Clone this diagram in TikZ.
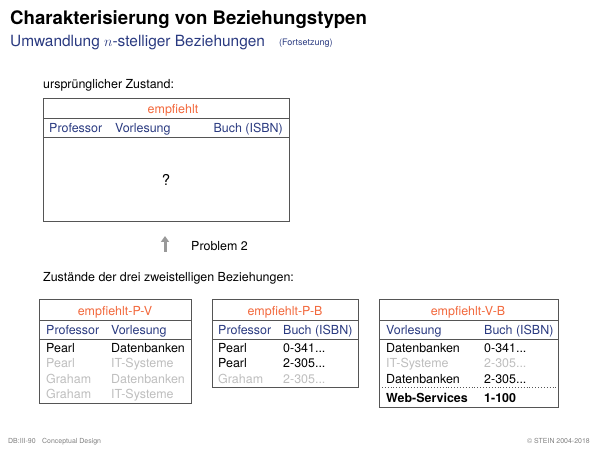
\documentclass[tikz,border=0pt]{standalone}
\usepackage{fontspec}
\setmainfont{TeX Gyre Heros}
\usepackage{xcolor}
\usetikzlibrary{arrows.meta}
\definecolor{slideblue}{RGB}{42,58,128}
\definecolor{slideorange}{RGB}{242,104,60}
\definecolor{lightrow}{RGB}{190,190,190}
\definecolor{framegray}{RGB}{85,85,85}

\begin{document}
\begin{tikzpicture}[x=1bp, y=-1bp,
    every node/.style={inner sep=0pt, text height=9bp, text depth=0bp, font=\fontsize{12.5}{14}\selectfont},
    frame/.style={draw=framegray, line width=0.9bp},
    relname/.style={text=slideorange},
    colname/.style={text=slideblue, anchor=west},
    row/.style={anchor=west},
    faded/.style={anchor=west, text=lightrow},
    footer/.style={text=gray, text height=5bp, font=\fontsize{7}{8}\selectfont}]
    \useasboundingbox (0,0) rectangle (600,450);

    % Title
    \node[anchor=west, text height=13.5bp, font=\fontsize{18.7}{20}\selectfont\bfseries] (title) at (10,18) {Charakterisierung von Beziehungstypen};
    \node[anchor=west, text height=11.2bp, text=slideblue, font=\fontsize{15.5}{17}\selectfont] (subtitle) at (10,41) {Umwandlung $n$-stelliger Beziehungen};
    \node[anchor=west, text height=6.5bp, text=slideblue, font=\fontsize{9}{10}\selectfont] (cont) at (279,42) {(Fortsetzung)};

    % Original state
    \node[anchor=west] (orig) at (43,84) {ursprünglicher Zustand:};
    \draw[frame] (43,98) rectangle (289,221);
    \draw[frame] (43,118) -- (289,118);
    \draw[frame] (43,137) -- (289,137);
    \node[relname] (rel) at (173,109) {empfiehlt};
    \node[colname] (prof) at (49,128) {Professor};
    \node[colname] (vorl) at (115,128) {Vorlesung};
    \node[colname, anchor=east] (buch) at (283,128) {Buch (ISBN)};
    \node[text height=10.5bp, font=\fontsize{15}{17}\selectfont] (quest) at (166,180) {?};

    % Problem arrow
    \coordinate (arrlo) at (165,252);
    \coordinate (arrhi) at (165,236);
    \draw[-{Triangle[width=8bp,length=6bp]}, line width=3bp, gray!80] (arrlo) -- (arrhi);
    \node[anchor=west] (prob) at (191,246) {Problem 2};

    % Binary relations
    \node[anchor=west] (binary) at (43,277) {Zustände der drei zweistelligen Beziehungen:};

    % empfiehlt-P-V
    \draw[frame] (39,299) rectangle (191,403);
    \draw[frame] (39,320) -- (191,320);
    \draw[frame] (39,339) -- (191,339);
    \node[relname] (pv) at (115,311) {empfiehlt-P-V};
    \node[colname] (pvA) at (46,330) {Professor};
    \node[colname] (pvB) at (111,330) {Vorlesung};
    \node[row] (pv1a) at (46,348) {Pearl};
    \node[row] (pv1b) at (111,348) {Datenbanken};
    \node[faded] (pv2a) at (46,363) {Pearl};
    \node[faded] (pv2b) at (111,363) {IT-Systeme};
    \node[faded] (pv3a) at (46,379) {Graham};
    \node[faded] (pv3b) at (111,379) {Datenbanken};
    \node[faded] (pv4a) at (46,394) {Graham};
    \node[faded] (pv4b) at (111,394) {IT-Systeme};

    % empfiehlt-P-B
    \draw[frame] (212,299) rectangle (358,387);
    \draw[frame] (212,320) -- (358,320);
    \draw[frame] (212,339) -- (358,339);
    \node[relname] (pb) at (285,311) {empfiehlt-P-B};
    \node[colname] (pbA) at (218,330) {Professor};
    \node[colname] (pbB) at (283,330) {Buch (ISBN)};
    \node[row] (pb1a) at (218,348) {Pearl};
    \node[row] (pb1b) at (283,348) {0-341...};
    \node[row] (pb2a) at (218,363) {Pearl};
    \node[row] (pb2b) at (283,363) {2-305...};
    \node[faded] (pb3a) at (218,379) {Graham};
    \node[faded] (pb3b) at (283,379) {2-305...};

    % empfiehlt-V-B
    \draw[frame] (379,299) rectangle (558,407);
    \draw[frame] (379,320) -- (558,320);
    \draw[frame] (379,339) -- (558,339);
    \draw[framegray, dotted, line width=0.9bp] (379,387) -- (558,387);
    \node[relname] (vb) at (468,311) {empfiehlt-V-B};
    \node[colname] (vbA) at (386,330) {Vorlesung};
    \node[colname] (vbB) at (484,330) {Buch (ISBN)};
    \node[row] (vb1a) at (386,348) {Datenbanken};
    \node[row] (vb1b) at (484,348) {0-341...};
    \node[faded] (vb2a) at (386,363) {IT-Systeme};
    \node[faded] (vb2b) at (484,363) {2-305...};
    \node[row] (vb3a) at (386,379) {Datenbanken};
    \node[row] (vb3b) at (484,379) {2-305...};
    \node[row, font=\fontsize{12.5}{14}\selectfont\bfseries] (vb4a) at (386,398) {Web-Services};
    \node[row, font=\fontsize{12.5}{14}\selectfont\bfseries] (vb4b) at (484,398) {1-100};

    % Footer
    \node[footer, anchor=west] (foot1) at (8,441) {DB:III-90};
    \node[footer, anchor=west] (foot2) at (42,441) {Conceptual Design};
    \node[footer, anchor=east] (foot3) at (590,441) {© STEIN 2004-2018};
\end{tikzpicture}
\end{document}
